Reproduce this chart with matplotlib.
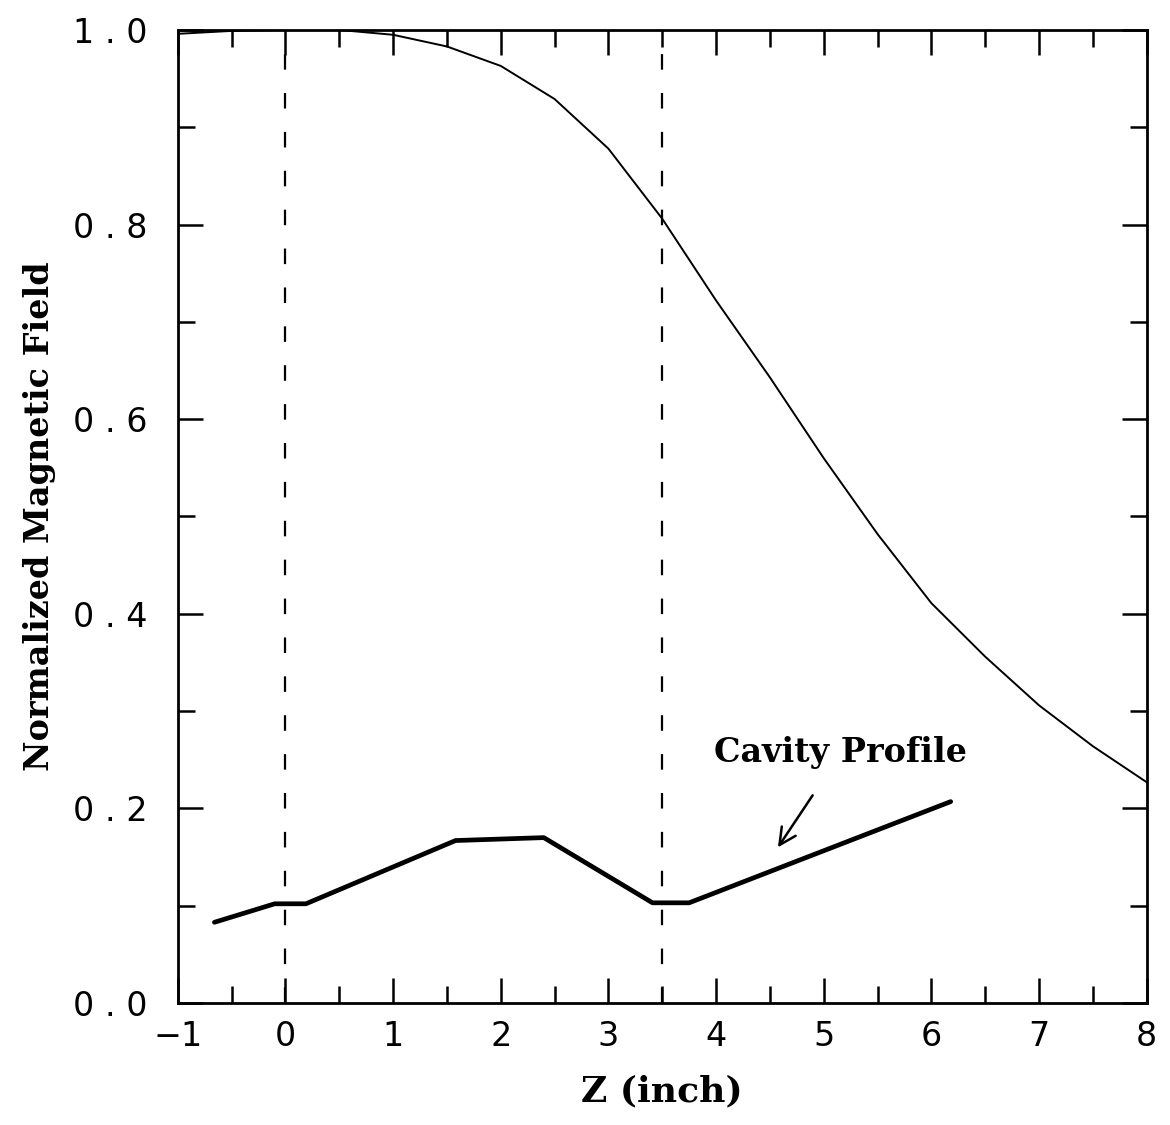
import matplotlib
matplotlib.use("Agg")
import matplotlib.pyplot as plt
from matplotlib.ticker import MultipleLocator, FixedLocator

# Field curve (normalized magnetic field vs Z)
field_z = [-1.0, -0.5, 0.0, 0.5, 1.0, 1.5, 2.0, 2.5, 3.0, 3.5, 4.0, 4.5, 5.0, 5.5, 6.0, 6.5, 7.0, 7.5, 8.0]
field_b = [0.996, 0.999, 1.0, 1.0, 0.995, 0.983, 0.963, 0.929, 0.878, 0.806, 0.722, 0.643, 0.560, 0.482, 0.411, 0.356, 0.306, 0.264, 0.227]

# Cavity profile
cav_z = [-0.66, -0.10, 0.19, 1.58, 2.40, 3.41, 3.75, 6.18]
cav_y = [0.083, 0.102, 0.102, 0.167, 0.170, 0.103, 0.103, 0.207]

# Vertical dashed lines
dash_z = [0.0, 3.5]

x_ticks = [-1, 0, 1, 2, 3, 4, 5, 6, 7, 8]
x_labels = ["\u22121", "0", "1", "2", "3", "4", "5", "6", "7", "8"]
y_ticks = [0.0, 0.2, 0.4, 0.6, 0.8, 1.0]
y_labels = ["0 . 0", "0 . 2", "0 . 4", "0 . 6", "0 . 8", "1 . 0"]

fig = plt.figure(figsize=(11.7, 11.25), dpi=100)
ax = fig.add_axes([0.152, 0.1084, 0.828, 0.865])

ax.plot(field_z, field_b, color="black", lw=1.4)
ax.plot(cav_z, cav_y, color="black", lw=3.4, solid_capstyle="round", solid_joinstyle="round")
for z in dash_z:
    ax.plot([z, z], [0.0, 0.985], color="black", lw=1.6, ls=(0, (7.0, 10.5)))

ax.set_xlim(-1, 8)
ax.set_ylim(0, 1.0)

ax.xaxis.set_major_locator(FixedLocator(x_ticks))
ax.set_xticklabels(x_labels)
ax.xaxis.set_minor_locator(MultipleLocator(0.5))
ax.yaxis.set_major_locator(FixedLocator(y_ticks))
ax.set_yticklabels(y_labels)
ax.yaxis.set_minor_locator(MultipleLocator(0.1))

ax.tick_params(which="both", direction="in", top=True, right=True, width=1.8, colors="black")
ax.tick_params(which="major", length=18)
ax.tick_params(which="minor", length=12)
ax.tick_params(axis="x", which="major", pad=12, labelsize=24)
ax.tick_params(axis="y", which="major", pad=22, labelsize=24)
for sp in ax.spines.values():
    sp.set_linewidth(2.0)

ax.set_xlabel("Z (inch)", family="DejaVu Serif", fontweight="bold", fontsize=26, labelpad=16)
ax.set_ylabel("Normalized Magnetic Field", family="DejaVu Serif", fontweight="bold", fontsize=24, labelpad=12)

ax.annotate("Cavity Profile", xy=(4.575, 0.160), xytext=(5.16, 0.257),
            ha="center", va="center", family="DejaVu Serif", fontweight="bold", fontsize=24,
            arrowprops=dict(arrowstyle="->", lw=1.8, color="black", mutation_scale=30,
                            shrinkA=20, shrinkB=0))

fig.savefig("out.png", dpi=100, facecolor="white")
